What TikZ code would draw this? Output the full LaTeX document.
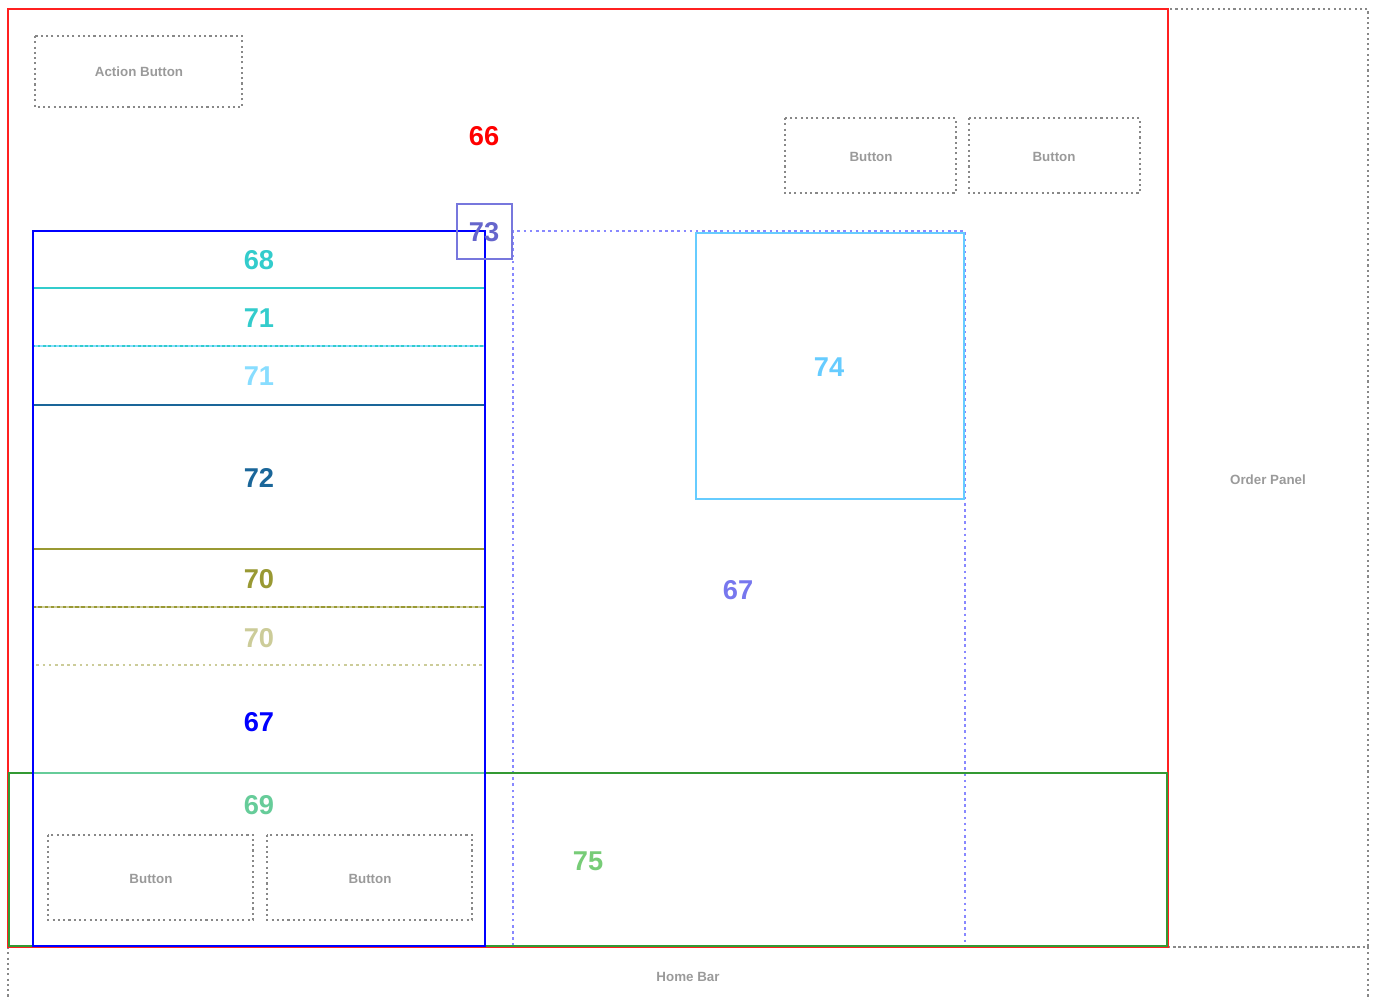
\documentclass[tikz,border=0pt]{standalone}
\usepackage{fontspec}
\setmainfont{Liberation Sans}
\usepackage{xcolor}
\usepackage{tikz}

\definecolor{frameRed}{HTML}{FF2020}
\definecolor{colBlue}{HTML}{0000FF}
\definecolor{rowTeal}{HTML}{33CCCC}
\definecolor{rowSky}{HTML}{88DDFF}
\definecolor{rowNavy}{HTML}{1A6699}
\definecolor{rowOlive}{HTML}{999933}
\definecolor{rowKhaki}{HTML}{CCCC99}
\definecolor{footMint}{HTML}{66CC99}
\definecolor{footGreen}{HTML}{339933}
\definecolor{footLeaf}{HTML}{77CC77}
\definecolor{gridLilac}{HTML}{8888FF}
\definecolor{gridLabel}{HTML}{7777EE}
\definecolor{pinViolet}{HTML}{7777DD}
\definecolor{pinLabel}{HTML}{6666CC}
\definecolor{tileSky}{HTML}{66CCFF}
\definecolor{ghostGray}{HTML}{888888}

\begin{document}
\begin{tikzpicture}[x=0.02cm, y=-0.02cm,
    ghost/.style={ghostGray, line width=0.6pt, dash pattern=on 1.2pt off 1.8pt},
    ghosttext/.style={text=ghostGray!85, font=\bfseries\fontsize{7.6}{9}\selectfont},
    num/.style={font=\bfseries\fontsize{15.5}{17}\selectfont}]
        \useasboundingbox (0,0) rectangle (1376,1000);
        % Outer frame, order panel and home bar
        \draw[ghost] (1168,9) rectangle (1368,947);
        \draw[ghost] (8,947) -- (8,1002) (1368,947) -- (1368,1002) (8,947) -- (1368,947);
        \draw[frameRed, line width=0.8pt] (8,9) rectangle (1168,947);
        \node[ghosttext] (orderLbl) at (1268,480) {Order Panel};
        \node[ghosttext] (homeLbl) at (688,977) {Home Bar};
        \node[num, text=red] (lbl66) at (484,136) {66};
        % Buttons at the top
        \draw[ghost] (35,36) rectangle (242,107);
        \node[ghosttext] (actionLbl) at (139,72) {Action Button};
        \draw[ghost] (785,118) rectangle (956,193);
        \node[ghosttext] (topBtnA) at (871,157) {Button};
        \draw[ghost] (969,118) rectangle (1140,193);
        \node[ghosttext] (topBtnB) at (1054,157) {Button};
        % Right grid 67 and tile 74
        \draw[gridLilac, line width=0.6pt, dash pattern=on 1.5pt off 2pt] (513,946) -- (513,231) -- (965,231) -- (965,946);
        \node[num, text=gridLabel] (lbl67b) at (738,590) {67};
        \draw[tileSky, line width=0.6pt] (696,233) rectangle (964,499);
        \node[num, text=tileSky] (lbl74) at (829,367) {74};
        % Footer 75
        \draw[footGreen, line width=0.8pt] (9,773) rectangle (1167,946);
        \node[num, text=footLeaf] (lbl75) at (588,861) {75};
        % Left column rows
        \draw[rowTeal, line width=1pt] (33,231) rectangle (485,288);
        \node[num, text=rowTeal] (lbl68) at (259,260) {68};
        \draw[rowTeal, line width=0.7pt] (33,288) rectangle (485,346);
        \node[num, text=rowTeal] (lbl71a) at (259,318) {71};
        \draw[rowSky, line width=0.6pt, dash pattern=on 1.5pt off 1.5pt] (33,346) rectangle (485,405);
        \node[num, text=rowSky] (lbl71b) at (259,376) {71};
        \draw[rowNavy, line width=0.8pt] (33,405) rectangle (485,549);
        \node[num, text=rowNavy] (lbl72) at (259,478) {72};
        \draw[rowOlive, line width=0.8pt] (33,549) rectangle (485,607);
        \node[num, text=rowOlive] (lbl70a) at (259,579) {70};
        \draw[rowKhaki, line width=0.6pt, dash pattern=on 1.5pt off 2pt] (33,607) rectangle (485,665);
        \node[num, text=rowKhaki] (lbl70b) at (259,638) {70};
        \draw[footMint, line width=1pt] (33,773) rectangle (485,946);
        \node[num, text=footMint] (lbl69) at (259,805) {69};
        \draw[ghost] (48,835) rectangle (253,920);
        \node[ghosttext] (footBtnA) at (151,879) {Button};
        \draw[ghost] (267,835) rectangle (472,920);
        \node[ghosttext] (footBtnB) at (370,879) {Button};
        \draw[colBlue, line width=0.8pt] (33,231) rectangle (485,946);
        \node[num, text=colBlue] (lbl67a) at (259,722) {67};
        % Marker 73
        \draw[pinViolet, line width=0.6pt] (457,204) rectangle (512,259);
        \node[num, text=pinLabel] (lbl73) at (484,232) {73};
    \end{tikzpicture}
\end{document}
